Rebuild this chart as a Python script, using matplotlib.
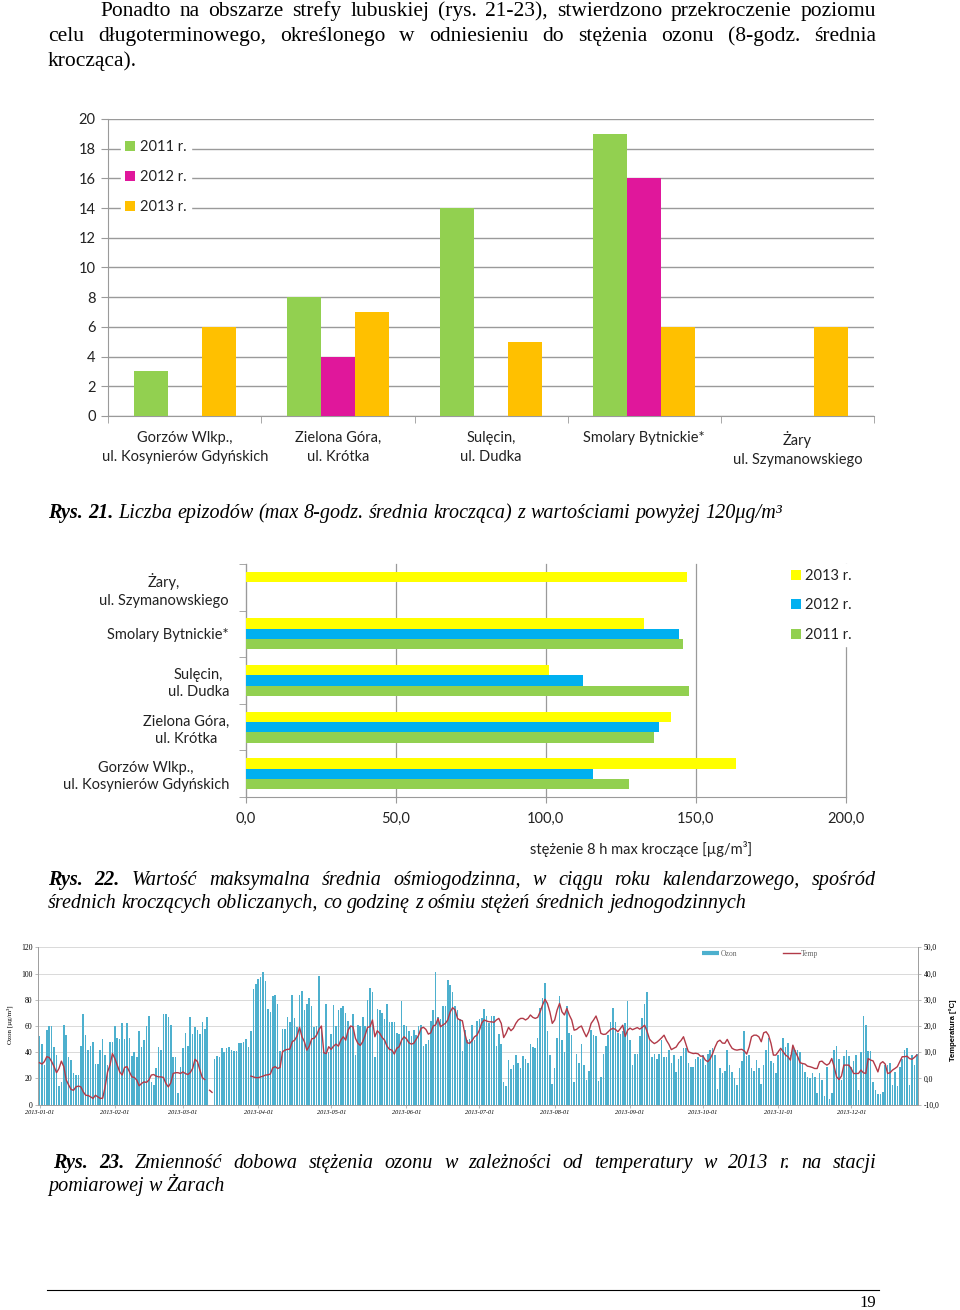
import numpy as np
import matplotlib
matplotlib.use('Agg')
import matplotlib.pyplot as plt
from matplotlib.lines import Line2D

plt.rcParams['font.family'] = ['Lato', 'DejaVu Sans']

# --- rys. 21: liczba epizodow ---
stacje_21 = ['Gorzów Wlkp.,\nul. Kosynierów Gdyńskich', 'Zielona Góra,\nul. Krótka',
             'Sulęcin,\nul. Dudka', 'Smolary Bytnickie*', 'Żary\nul. Szymanowskiego']
epizody_2011 = [3, 8, 14, 19, 0]
epizody_2012 = [0, 4, 0, 16, 0]
epizody_2013 = [6, 7, 5, 6, 6]

# --- rys. 22: max 8h kroczaca ---
stacje_22 = ['Gorzów Wlkp.,\nul. Kosynierów Gdyńskich', 'Zielona Góra,\nul. Krótka',
             'Sulęcin,\nul. Dudka', 'Smolary Bytnickie*', 'Żary,\nul. Szymanowskiego']
max8h_2011 = [127.8, 136.0, 147.7, 145.7, np.nan]
max8h_2012 = [115.8, 137.9, 112.5, 144.4, np.nan]
max8h_2013 = [163.3, 141.7, 101.2, 132.8, 147.0]
xticks_22 = ['0,0', '50,0', '100,0', '150,0', '200,0']

# --- rys. 23: Zary 2013, dobowe ozon [ug/m3] i temperatura [C] ---
nan = np.nan
ozon_sty = [52, 46, 30, 57, 60, 60, 44, 38, 14, 17, 61, 53, 36, 34, 24, 23, 23, 45, 69, 53,
            42, 45, 48, 31, 31, 42, 50, 38, 30, 48, 48]
ozon_lut = [60, 51, 50, 62, 50, 62, 51, 37, 40, 36, 56, 44, 49, 60, 68, 17, 15, 28, 44, 42,
            69, 69, 67, 61, 36, 36, 9, 29]
ozon_mar = [43, 55, 45, 67, 54, 59, 57, 54, 63, 58, 67, nan, nan, 35, 37, 36, 43, 40, 43, 44,
            42, 41, 41, 47, 47, 48, 50, 44, 56, 88, 92]
ozon_kwi = [96, 97, 101, 94, 73, 71, 83, 84, 77, 41, 58, 58, 67, 63, 84, 66, 59, 84, 87, 72,
            77, 81, 75, 59, 60, 98, 60, 40, 77, 40]
ozon_maj = [54, 76, 60, 72, 74, 75, 70, 64, 59, 69, 38, 61, 60, 67, 60, 80, 89, 86, 36, 73,
            72, 70, 65, 77, 63, 63, 63, 55, 54, 79, 61]
ozon_cze = [60, 56, 52, 57, 53, 60, 61, 45, 46, 49, 64, 72, 101, 67, 65, 75, 75, 95, 91, 86,
            75, 72, 65, 41, 57, 49, 50, 61, 49, 64]
ozon_lip = [65, 66, 73, 68, 62, 68, 68, 45, 54, 46, 17, 14, 34, 27, 30, 38, 32, 28, 37, 35,
            32, 46, 44, 43, 51, 74, 81, 93, 56, 38, 16]
ozon_sie = [28, 51, 83, 49, 40, 75, 55, 53, 17, 39, 32, 46, 30, 19, 26, 57, 53, 52, 18, 21,
            39, 45, 53, 63, 74, 63, 55, 54, 56, 62, 79]
ozon_wrz = [49, 30, 39, 39, 52, 66, 77, 86, 49, 36, 39, 35, 39, 49, 36, 36, 42, 32, 38, 25,
            35, 37, 43, 43, 32, 29, 29, 35, 36, 35]
ozon_paz = [38, 30, 39, 42, 43, 38, 12, 28, 24, 26, 42, 30, 25, 20, 15, 28, 33, 56, 37, 38,
            28, 26, 34, 28, 16, 30, 42, 51, 33, 32, 24]
ozon_lis = [38, 42, 51, 44, 47, 38, 44, 42, 42, 40, 32, 25, 21, 20, 24, 21, 9, 24, 19, 7,
            29, 4, 9, 42, 45, 35, 19, 37, 42, 37]
ozon_gru = [29, 33, 38, 11, 40, 68, 61, 41, 41, 17, 11, 8, 8, 10, 30, 30, 32, 15, 25, 14,
            29, 35, 42, 43, 15, 38, 30, 39]

temp_sty = [6.0, 5.5, 6.4, 8.3, 8.0, 6.4, 4.5, 2.2, 3.8, 6.6, 4.5, -0.6, -2.5, -4.2, -4.5,
            -3.2, -2.9, -3.2, -5.1, -6.4, -6.5, -7.0, -7.6, -6.4, -7.0, -7.6, -7.5, -3.2,
            2.5, 5.1, 9.5]
temp_lut = [7.6, 5.1, 2.5, 1.3, 4.2, 4.5, 2.5, 0.6, 0.4, -0.6, -2.8, -1.9, -1.3, -1.5, -0.6,
            1.3, 1.5, 0.9, 0.6, 0.6, 0.4, -1.9, -3.2, -1.7, 1.9, 2.2, 2.2, 1.9]
temp_mar = [2.5, 1.9, 1.5, 2.2, 3.8, 7.3, 6.4, 3.2, 0.3, -0.4, nan, -4.5, -5.3, nan, nan,
            nan, nan, nan, nan, nan, nan, nan, nan, nan, nan, nan, nan, nan, 0.9, 0.6, 0.3]
temp_kwi = [0.3, 0.6, 0.9, 1.3, 1.4, 1.7, 4.1, 4.5, 3.8, 4.2, 10.2, 10.8, 11.1, 11.2, 14.0,
            14.6, 16.2, 19.5, 15.9, 14.0, 10.8, 12.3, 15.1, 15.3, 16.5, 18.7, 20.0, 9.8,
            9.5, 12.1]
temp_maj = [11.1, 12.3, 13.1, 12.3, 14.6, 15.9, 14.6, 18.4, 20.0, 19.7, 15.3, 13.4, 12.6,
            14.0, 16.5, 19.5, 19.7, 22.3, 15.9, 18.2, 17.2, 15.6, 14.6, 12.3, 11.1, 10.8,
            9.3, 11.5, 12.1, 14.6, 15.9]
temp_cze = [15.1, 13.6, 13.1, 13.4, 14.9, 16.5, 19.1, 19.5, 18.7, 16.9, 17.4, 20.0, 20.4,
            22.9, 19.7, 20.4, 21.0, 22.3, 25.4, 27.0, 26.1, 22.9, 22.3, 22.0, 17.2, 13.6,
            13.4, 14.4, 15.9, 16.5]
temp_lip = [18.4, 21.2, 22.3, 21.9, 21.6, 21.6, 21.4, 22.3, 22.9, 21.0, 15.6, 17.2, 19.5,
            18.2, 19.1, 21.0, 22.3, 22.9, 22.9, 22.3, 22.9, 24.2, 23.3, 22.9, 23.3, 25.4,
            28.0, 30.2, 28.6, 25.4, 21.0]
temp_sie = [22.3, 26.1, 28.6, 25.4, 24.2, 26.7, 24.2, 22.3, 18.4, 18.7, 19.5, 20.0, 17.8,
            15.9, 17.8, 21.0, 22.3, 23.8, 21.2, 17.2, 16.8, 16.9, 17.8, 18.7, 19.1, 18.7,
            17.8, 19.0, 20.3, 16.0, 18.4]
temp_wrz = [19.2, 18.6, 19.0, 19.4, 18.8, 19.5, 20.3, 18.0, 15.0, 14.0, 13.3, 13.8, 14.6,
            15.5, 16.5, 14.5, 13.0, 11.0, 11.5, 12.0, 13.5, 14.5, 15.9, 13.0, 10.2, 9.8,
            9.5, 9.6, 9.4, 8.5]
temp_paz = [8.5, 7.0, 6.4, 7.5, 9.5, 12.0, 14.0, 14.6, 13.5, 13.4, 14.9, 13.0, 11.5, 11.0,
            10.8, 11.0, 11.1, 10.5, 9.3, 12.0, 15.9, 16.5, 16.5, 15.9, 14.0, 17.4, 17.8,
            16.5, 13.4, 8.9, 8.9]
temp_lis = [10.2, 11.5, 10.2, 8.9, 8.3, 7.0, 12.7, 10.2, 8.3, 6.0, 5.7, 5.5, 4.7, 4.5, 4.2,
            3.8, 3.8, 6.4, 6.6, 5.7, 5.1, 5.7, 7.6, 4.5, 0.6, -0.4, 0.9, 5.1, 5.1, 5.1]
temp_gru = [3.8, 1.9, 1.9, 1.9, 3.2, 2.2, 1.9, 7.6, 7.0, 6.7, 4.7, 2.5, 5.7, 6.4, 5.5, 1.9,
            2.2, 3.2, 3.8, 4.5, 6.4, 8.3, 8.3, 8.5, 7.6, 7.3, 8.0, 8.9]

miesiace = ['2013-01-01', '2013-02-01', '2013-03-01', '2013-04-01', '2013-05-01', '2013-06-01',
            '2013-07-01', '2013-08-01', '2013-09-01', '2013-10-01', '2013-11-01', '2013-12-01']
dni_miesiaca = [31, 28, 31, 30, 31, 30, 31, 31, 30, 31, 30, 31]

W, H = 960, 1310
fig = plt.figure(figsize=(W / 100, H / 100), dpi=100)
fig.patch.set_facecolor('white')


def rect(l, t, r, b):
    # pixel box -> figure fraction
    return [l / W, 1 - b / H, (r - l) / W, (b - t) / H]


SERIF = ['Liberation Serif', 'DejaVu Serif']


def linia(y, line, x0, x1=None, size=13, style='normal', bold_words=0):
    # one line of body text, optionally justified between x0 and x1
    r = fig.canvas.get_renderer()
    objs = []
    for i, wd in enumerate(line.split()):
        objs.append(fig.text(0, 1 - y / H, wd, fontsize=size, family=SERIF, style=style,
                             weight='bold' if i < bold_words else 'normal', va='baseline'))
    widths = [o.get_window_extent(r).width for o in objs]
    gap = size * 100 / 72 * 0.25
    if x1 is not None and len(objs) > 1:
        gap = (x1 - x0 - sum(widths)) / (len(objs) - 1)
    x = x0
    for o, wd in zip(objs, widths):
        o.set_x(x / W)
        x += wd + gap


BODY = 15.5
CAP = 14.5
linia(16, 'Ponadto na obszarze strefy lubuskiej (rys. 21-23), stwierdzono przekroczenie poziomu', 100, 876, size=BODY)
linia(41, 'celu długoterminowego, określonego w odniesieniu do stężenia ozonu (8-godz. średnia', 48, 876, size=BODY)
linia(66, 'krocząca).', 48, size=BODY)

# ---------------- rys. 21 ----------------
grid_c = '#9A9A9A'
ax1 = fig.add_axes(rect(108.3, 119, 874, 416))
x = np.arange(len(stacje_21))
w = 0.222
ax1.bar(x - w, epizody_2011, w, color='#92D050', label='2011 r.', zorder=3)
ax1.bar(x, epizody_2012, w, color='#E0179B', label='2012 r.', zorder=3)
ax1.bar(x + w, epizody_2013, w, color='#FFC000', label='2013 r.', zorder=3)
ax1.set_xlim(-0.5, 4.5)
ax1.set_ylim(0, 20)
ax1.set_yticks(range(0, 21, 2))
ax1.yaxis.grid(True, color=grid_c, lw=1.0)
ax1.set_axisbelow(True)
for s in ['top', 'right']:
    ax1.spines[s].set_visible(False)
for s in ['left', 'bottom']:
    ax1.spines[s].set_color(grid_c)
ax1.set_xticks(x)
ax1.set_xticklabels(stacje_21, fontsize=10.5, linespacing=1.4, color='#222222')
ax1.set_xticks(np.arange(-0.5, 5, 1), minor=True)
ax1.tick_params(axis='x', which='major', length=0, pad=11)
ax1.tick_params(axis='x', which='minor', length=5, color=grid_c)
ax1.tick_params(axis='y', length=5, color=grid_c, labelsize=10.5, labelcolor='#222222', pad=4)
ax1.legend(loc='upper left', bbox_to_anchor=(0.016, 0.945), borderaxespad=0, frameon=True,
           facecolor='white', edgecolor='white', framealpha=1, fancybox=False,
           handlelength=0.7, handleheight=0.7, handletextpad=0.3, labelspacing=1.12,
           borderpad=0.3, fontsize=10.5, labelcolor='#222222')

linia(518, 'Rys. 21. Liczba epizodów (max 8-godz. średnia krocząca) z wartościami powyżej 120μg/m³',
      48, size=CAP, style='italic', bold_words=2)

# ---------------- rys. 22 ----------------
ax2 = fig.add_axes(rect(245.7, 564, 845.7, 797))
y = np.arange(len(stacje_22))
h2011 = ax2.barh(y - w, max8h_2011, w, color='#92D050', label='2011 r.', zorder=3)
h2012 = ax2.barh(y, max8h_2012, w, color='#00B0F0', label='2012 r.', zorder=3)
h2013 = ax2.barh(y + w, max8h_2013, w, color='#FFFF00', label='2013 r.', zorder=3)
ax2.set_xlim(0, 200)
ax2.set_ylim(-0.5, 4.5)
ax2.set_xticks(range(0, 201, 50))
ax2.set_xticklabels(xticks_22, fontsize=10.5, color='#222222')
ax2.xaxis.grid(True, color=grid_c, lw=0.9)
for gl in ax2.get_xgridlines():
    gl.set_clip_on(False)
ax2.set_axisbelow(True)
for s in ['top', 'right']:
    ax2.spines[s].set_visible(False)
for s in ['left', 'bottom']:
    ax2.spines[s].set_color(grid_c)
ax2.set_yticks(y)
ax2.set_yticklabels(stacje_22, fontsize=10.5, linespacing=1.3, color='#222222',
                    multialignment='center')
ax2.set_yticks(np.arange(-0.5, 5, 1), minor=True)
ax2.tick_params(axis='y', which='major', length=0, pad=12)
ax2.tick_params(axis='y', which='minor', length=5, color=grid_c)
ax2.tick_params(axis='x', length=4, color=grid_c, pad=7)
ax2.legend(handles=[h2013, h2012, h2011], loc='upper left', bbox_to_anchor=(0.902, 0.998),
           borderaxespad=0, frameon=True, facecolor='white', edgecolor='white',
           framealpha=1, fancybox=False, handlelength=0.7, handleheight=0.7,
           handletextpad=0.25, labelspacing=1.07, borderpad=0.3, fontsize=10.5,
           labelcolor='#222222')
fig.text(641 / W, 1 - 849 / H, 'stężenie 8 h max kroczące [µg/m³]', ha='center', va='center',
         fontsize=10.5, color='#222222')

linia(885, 'Rys. 22. Wartość maksymalna średnia ośmiogodzinna, w ciągu roku kalendarzowego, spośród',
      48, 876, size=CAP, style='italic', bold_words=2)
linia(908, 'średnich kroczących obliczanych, co godzinę z ośmiu stężeń średnich jednogodzinnych',
      48, size=CAP, style='italic')

# ---------------- rys. 23 ----------------
ozon = np.array(ozon_sty + ozon_lut + ozon_mar + ozon_kwi + ozon_maj + ozon_cze + ozon_lip
                + ozon_sie + ozon_wrz + ozon_paz + ozon_lis + ozon_gru, dtype=float)
temp = np.array(temp_sty + temp_lut + temp_mar + temp_kwi + temp_maj + temp_cze + temp_lip
                + temp_sie + temp_wrz + temp_paz + temp_lis + temp_gru, dtype=float)
dni = np.arange(len(ozon))
poczatki = np.concatenate([[0], np.cumsum(dni_miesiaca)[:-1]])

ozon_c = '#4DB0CE'
temp_c = '#B23A48'
light = '#D9D9D9'
ax3 = fig.add_axes(rect(38.3, 947.3, 918, 1104.7))
ax3.bar(dni, np.nan_to_num(ozon), width=0.65, color=ozon_c, lw=0, zorder=2)
ax3.set_xlim(-0.5, 361.5)
ax3.set_ylim(0, 120)
ax3.set_yticks(range(0, 121, 20))
ax3.yaxis.grid(True, color=light, lw=0.7)
ax3.set_axisbelow(True)
ax3.spines['top'].set_visible(False)
for s in ['left', 'bottom', 'right']:
    ax3.spines[s].set_color('#A0A0A0')
    ax3.spines[s].set_linewidth(0.7)
ax3.set_xticks(poczatki)
ax3.set_xticklabels(miesiace, fontsize=4.5, style='italic', family=SERIF)
ax3.tick_params(axis='x', length=2, width=0.5, pad=2, color='#A0A0A0')
ax3.tick_params(axis='y', length=2, width=0.5, pad=2, color='#A0A0A0', labelsize=5.5)
for t in ax3.get_yticklabels():
    t.set_family(SERIF)

ax3t = ax3.twinx()
ax3t.plot(dni, temp, color=temp_c, lw=1.0, zorder=3)
ax3t.set_ylim(-10, 50)
ax3t.set_yticks(range(-10, 51, 10))
ax3t.set_yticklabels([f'{v:.1f}'.replace('.', ',') for v in range(-10, 51, 10)],
                     fontsize=5.5, family=SERIF)
ax3t.tick_params(axis='y', length=2, width=0.5, pad=2, color='#A0A0A0')
ax3t.spines['top'].set_visible(False)
for s in ['left', 'bottom', 'right']:
    ax3t.spines[s].set_color('#A0A0A0')
    ax3t.spines[s].set_linewidth(0.7)
ax3t.legend(handles=[Line2D([], [], color=ozon_c, lw=3, solid_capstyle='butt'),
                     Line2D([], [], color=temp_c, lw=1)],
            labels=['Ozon', 'Temp'], loc='upper left', bbox_to_anchor=(0.7545, 0.985),
            borderaxespad=0, borderpad=0, ncol=2, frameon=False,
            handlelength=2.2, handletextpad=0.2, columnspacing=6, labelcolor='#666666',
            prop={'family': SERIF, 'size': 5.5})
fig.text(10 / W, 1 - 1025 / H, 'Ozon [µg/m³]', rotation=90, ha='center', va='center',
         fontsize=5, family=SERIF)
fig.text(953 / W, 1 - 1030 / H, 'Temperatura [°C]', rotation=90, ha='center', va='center',
         fontsize=5.5, weight='bold', family=['Liberation Sans', 'DejaVu Sans'])

linia(1168, 'Rys. 23. Zmienność dobowa stężenia ozonu w zależności od temperatury w 2013 r. na stacji',
      53, 876, size=CAP, style='italic', bold_words=2)
linia(1191, 'pomiarowej w Żarach', 48, size=CAP, style='italic')

fig.add_artist(Line2D([47 / W, 879 / W], [1 - 1290 / H] * 2, color='black', lw=0.8))
fig.text(868 / W, 1 - 1303 / H, '19', ha='center', va='center', fontsize=12, family=SERIF)

fig.savefig('out.png', dpi=100)
